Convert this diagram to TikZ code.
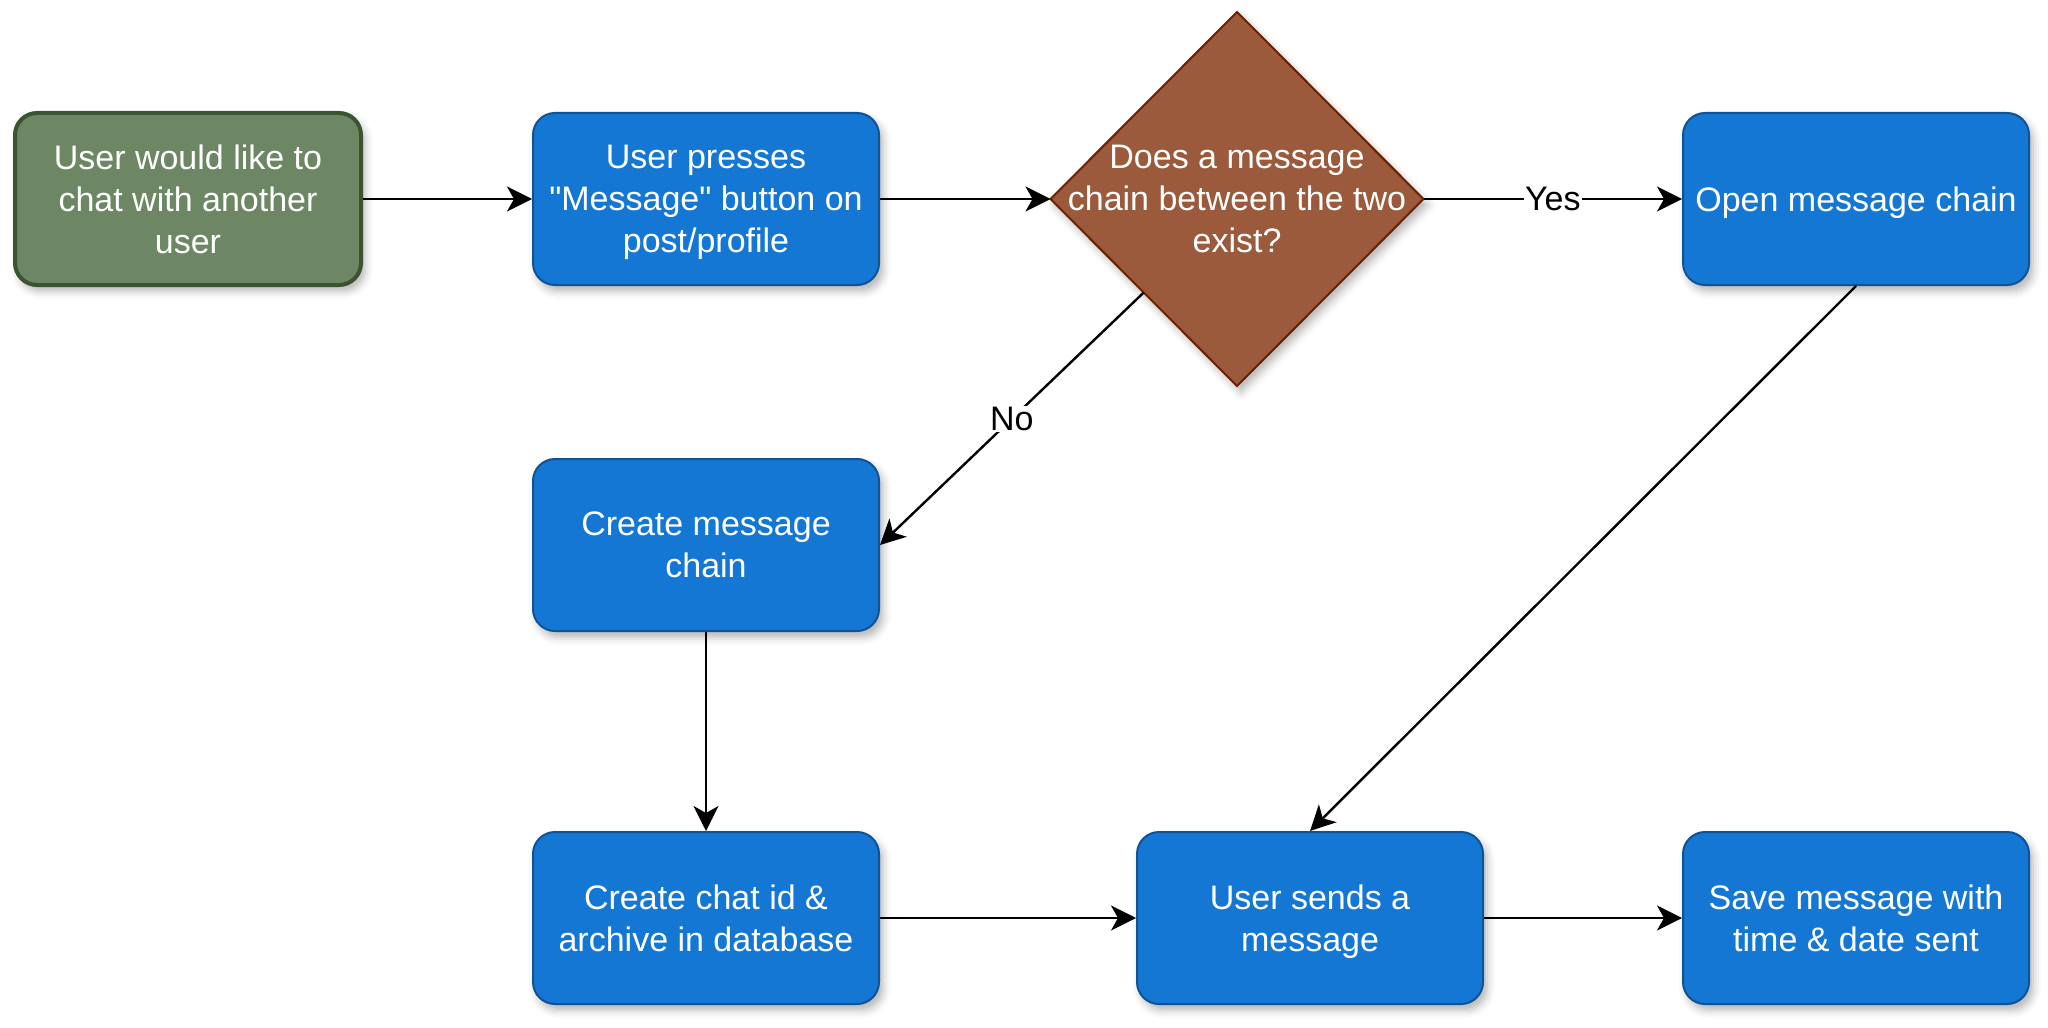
\documentclass[tikz,border=0pt]{standalone}
\usepackage{fontspec}
\setmainfont{Liberation Sans}[Ligatures=TeXOff]
\usetikzlibrary{shapes.geometric,arrows.meta,shadows.blur}
\definecolor{bluefill}{RGB}{21,119,212}
\definecolor{bluedraw}{RGB}{16,82,150}
\definecolor{greenfill}{RGB}{109,135,100}
\definecolor{greendraw}{RGB}{58,84,49}
\definecolor{brownfill}{RGB}{155,90,60}
\definecolor{browndraw}{RGB}{109,31,0}
\begin{document}
\begin{tikzpicture}[x=0.5pt,y=-0.5pt,
  shad/.style={blur shadow={shadow xshift=2pt,shadow yshift=-3pt,shadow blur radius=4pt,shadow opacity=30}},
  box/.style={rectangle, rounded corners=11pt, minimum width=173pt, minimum height=86pt,
    fill=bluefill, draw=bluedraw, line width=1pt, text=white, align=center, text depth=0pt,
    font=\fontsize{17}{21}\selectfont, shad},
  startbox/.style={box, fill=greenfill, draw=greendraw, line width=2pt},
  decision/.style={diamond, minimum width=186.5pt, minimum height=187pt, inner sep=0pt, outer sep=0pt,
    fill=brownfill, draw=browndraw, line width=1pt, shad},
  dtext/.style={text=white, align=center, text depth=0pt, font=\fontsize{17}{21}\selectfont},
  conn/.style={-{Stealth[length=12.5pt,width=12.5pt,inset=3.5pt]}, line width=1.2pt},
  lbl/.style={fill=white, inner sep=0.5pt, font=\fontsize{17}{21}\selectfont}]
\useasboundingbox (0,0) rectangle (2048,1027);
\node[startbox] (a) at (188,199) {User would like to\\chat with another\\user};
\node[box] (b) at (706,199) {User presses\\"Message" button on\\post/profile};
\node[decision] (c) at (1237,199) {};
\node[dtext] (ct) at (c) {Does a message\\chain between the two\\exist?};
\node[box] (d) at (1856,199) {Open message chain};
\node[box] (e) at (706,545) {Create message\\chain};
\node[box] (f) at (706,918) {Create chat id \&\\archive in database};
\node[box] (g) at (1310,918) {User sends a\\message};
\node[box] (h) at (1856,918) {Save message with\\time \& date sent};
\draw[conn] (a.east) -- (b.west);
\draw[conn] (b.east) -- (c.west);
\draw[conn] (c.east) -- node[lbl]{Yes} (d.west);
\draw[conn] (c.south west) -- node[lbl]{No} (e.east);
\draw[conn] (e.south) -- (f.north);
\draw[conn] (f.east) -- (g.west);
\draw[conn] (d.south) -- (g.north);
\draw[conn] (g.east) -- (h.west);
\end{tikzpicture}
\end{document}
